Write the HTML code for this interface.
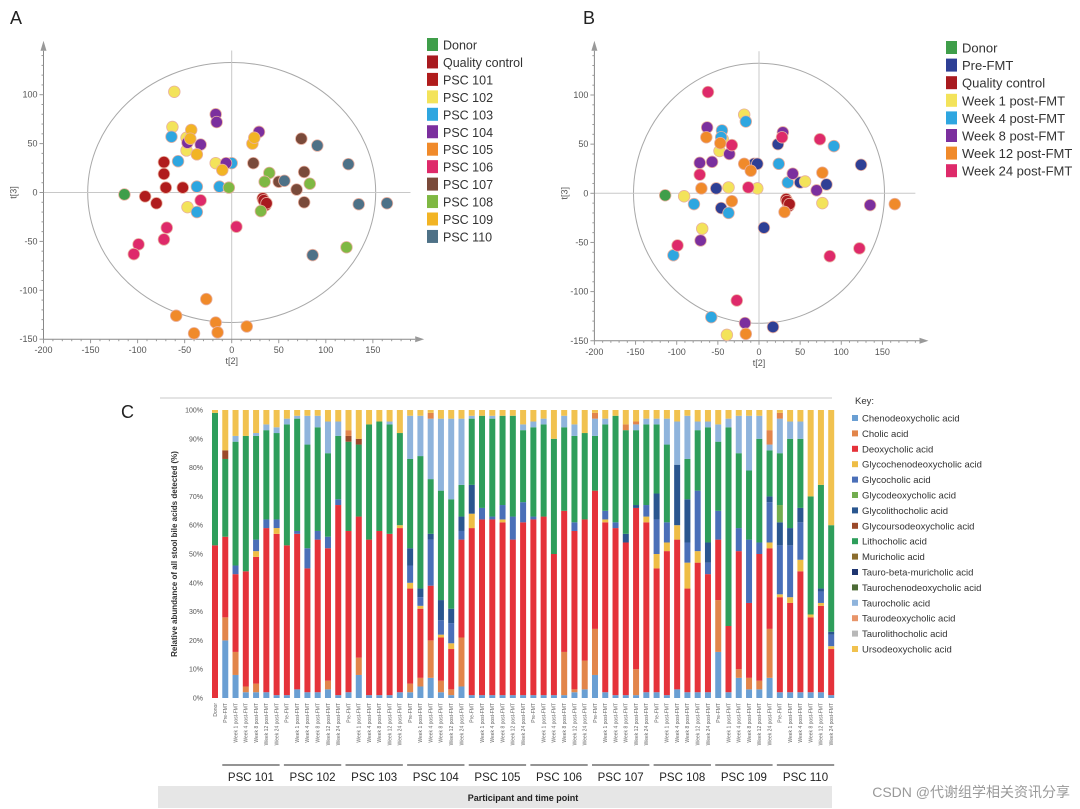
<!DOCTYPE html>
<html><head><meta charset="utf-8"><style>
html,body{margin:0;padding:0;background:#fff;}
svg{display:block;font-family:"Liberation Sans",sans-serif;}
</style></head><body>
<svg id="fig" width="1080" height="809" viewBox="0 0 1080 809">
<text x="10" y="24" font-size="18" fill="#222">A</text>
<text x="583" y="24" font-size="18" fill="#222">B</text>
<text x="121" y="418" font-size="18" fill="#222">C</text>
<g id="pa"></g>
<g id="pb"></g>
<g id="pc"></g>
</svg>
<script>
const NS="http://www.w3.org/2000/svg";
function mk(p,t,a){const e=document.createElementNS(NS,t);for(const k in a)e.setAttribute(k,a[k]);p.appendChild(e);return e;}

/* ---------- Scatter data ---------- */
const groupsA=["Donor","Quality control","PSC 101","PSC 102","PSC 103","PSC 104","PSC 105","PSC 106","PSC 107","PSC 108","PSC 109","PSC 110"];
const colorsA=["#3f9e4a","#a81a1f","#b01c1c","#f3e35a","#2ea6e0","#7b2f9e","#f08a2a","#de2a6a","#7a4a3a","#7fb843","#f2b424","#4e7187"];
const pointsA=[
[[-114,-2]],
[[33,-6],[35,-10],[36,-13],[34,-8],[37,-11]],
[[-72,31],[-72,19],[-70,5],[-52,5],[-92,-4],[-80,-11]],
[[-61,103],[-63,67],[-48,56],[-48,43],[-17,30],[-47,-15]],
[[-64,57],[-57,32],[-37,6],[-13,6],[-37,-20],[0,30]],
[[-17,80],[-16,72],[-33,49],[-47,51],[-6,30],[29,62]],
[[-27,-109],[-59,-126],[-40,-144],[-17,-133],[-15,-143],[16,-137]],
[[-33,-8],[-69,-36],[-72,-48],[-99,-53],[-104,-63],[5,-35]],
[[74,55],[23,30],[50,11],[69,3],[77,21],[77,-10]],
[[40,20],[35,11],[83,9],[31,-19],[122,-56],[-3,5]],
[[-43,64],[-37,39],[-10,23],[22,50],[24,56],[-44,55]],
[[91,48],[124,29],[56,12],[135,-12],[165,-11],[86,-64]]];
const groupsB=["Donor","Pre-FMT","Quality control","Week 1 post-FMT","Week 4 post-FMT","Week 8 post-FMT","Week 12 post-FMT","Week 24 post-FMT"];
const colorsB=["#3f9e4a","#2e3f95","#a81a1f","#f3e35a","#2ea6e0","#7b2f9e","#f08a2a","#de2a6a"];
const pointsB=[
[[-114,-2]],
[[-52,5],[-46,-15],[-6,30],[-2,30],[23,50],[50,11],[82,9],[124,29],[6,-35],[17,-136]],
[[33,-6],[35,-10],[36,-13],[34,-8],[37,-11]],
[[-91,-3],[-69,-36],[-37,6],[-2,5],[-18,80],[-48,43],[-44,55],[56,12],[77,-10],[-39,-144]],
[[-79,-11],[-104,-63],[-45,64],[-46,57],[-16,73],[-37,-20],[24,30],[35,11],[91,48],[-58,-126]],
[[-72,31],[-63,67],[-57,32],[-36,40],[41,20],[29,62],[70,3],[135,-12],[-71,-48],[-17,-132]],
[[-64,57],[-70,5],[-33,-8],[-18,30],[-10,23],[-47,51],[31,-19],[77,21],[165,-11],[-16,-143]],
[[-62,103],[-72,19],[-33,49],[-13,6],[28,57],[74,55],[86,-64],[122,-56],[-27,-109],[-99,-53]]];
const xTicks=[-200,-150,-100,-50,0,50,100,150];
const yTicks=[100,50,0,-50,-100,-150];

function scatter(g,cfg,groups,colors,points,legX,legY,legStep,legFont){
  const sx=v=>cfg.x0+v*cfg.kx, sy=v=>cfg.y0-v*cfg.ky;
  const left=sx(-200), bot=sy(-150);
  mk(g,"ellipse",{cx:sx(0),cy:sy(0),rx:cfg.rx,ry:cfg.ry,fill:"none",stroke:"#a8a8a8","stroke-width":1});
  mk(g,"line",{x1:sx(0),y1:sy(0)-cfg.ry-12,x2:sx(0),y2:bot,stroke:"#c8c8c8"});
  mk(g,"line",{x1:left,y1:sy(0),x2:sx(190),y2:sy(0),stroke:"#c8c8c8"});
  mk(g,"line",{x1:left,y1:bot,x2:sx(195),y2:bot,stroke:"#888"});
  mk(g,"line",{x1:left,y1:bot,x2:left,y2:sy(145),stroke:"#888"});
  mk(g,"path",{d:`M${sx(195)},${bot-3}L${sx(195)+9},${bot}L${sx(195)},${bot+3}Z`,fill:"#999"});
  mk(g,"path",{d:`M${left-3},${sy(145)}L${left},${sy(145)-10}L${left+3},${sy(145)}Z`,fill:"#999"});
  for(let v=-200;v<=190;v+=10){mk(g,"line",{x1:sx(v),y1:bot,x2:sx(v),y2:bot+(v%50===0?4:2),stroke:"#999"});}
  for(let v=-150;v<=140;v+=10){mk(g,"line",{x1:left,y1:sy(v),x2:left-(v%50===0?4:2),y2:sy(v),stroke:"#999"});}
  xTicks.forEach(v=>{const t=mk(g,"text",{x:sx(v),y:bot+14,"font-size":9,fill:"#555","text-anchor":"middle"});t.textContent=v;
    
    });
  yTicks.forEach(v=>{const t=mk(g,"text",{x:left-6,y:sy(v)+3,"font-size":9,fill:"#555","text-anchor":"end"});t.textContent=v;
    
    });
  const xt=mk(g,"text",{x:sx(0),y:bot+25,"font-size":9,fill:"#555","text-anchor":"middle"});xt.textContent="t[2]";
  
  
  const yt=mk(g,"text",{x:0,y:0,"font-size":9,fill:"#555","text-anchor":"middle",transform:`translate(${left-27},${sy(0)}) rotate(-90)`});yt.textContent="t[3]";
  
  
  points.forEach((pts,gi)=>pts.forEach(p=>{
    const c=mk(g,"circle",{cx:sx(p[0]),cy:sy(p[1]),r:5.8,fill:colors[gi],stroke:"#e8b0a0","stroke-width":0.8});
    
    
  }));
  groups.forEach((n,i)=>{
    const y=legY+i*legStep;
    const r=mk(g,"rect",{x:legX,y:y-7,width:11,height:13,fill:colors[i]});
    
    
    const t=mk(g,"text",{x:legX+16,y:y+4.5,"font-size":legFont,fill:"#333"});t.textContent=n;
    
    
  });
}
scatter(document.getElementById("pa"),{x0:231.7,y0:192.5,kx:0.941,ky:0.978,rx:144,ry:130},groupsA,colorsA,pointsA,427,45,17.45,12.5);
scatter(document.getElementById("pb"),{x0:759,y0:193.3,kx:0.823,ky:0.983,rx:125.5,ry:130},groupsB,colorsB,pointsB,946,48,17.6,13);

/* ---------- Bar chart data ---------- */
const participants=["PSC 101","PSC 102","PSC 103","PSC 104","PSC 105","PSC 106","PSC 107","PSC 108","PSC 109","PSC 110"];
const timepoints=["Pre-FMT","Week 1 post-FMT","Week 4 post-FMT","Week 8 post-FMT","Week 12 post-FMT","Week 24 post-FMT"];
const yTickPct=[0,10,20,30,40,50,60,70,80,90,100];
const keyNames=["Chenodeoxycholic acid","Cholic acid","Deoxycholic acid","Glycochenodeoxycholic acid","Glycocholic acid","Glycodeoxycholic acid","Glycolithocholic acid","Glycoursodeoxycholic acid","Lithocholic acid","Muricholic acid","Tauro-beta-muricholic acid","Taurochenodeoxycholic acid","Taurocholic acid","Taurodeoxycholic acid","Taurolithocholic acid","Ursodeoxycholic acid"];
const keyColors=["#6a9fd3","#e2854a","#e5323a","#eebd45","#4a6fb8","#72ad4f","#2a568f","#9b4a2a","#2e9e5b","#8b6d2e","#1f3570","#4c6b36","#8fb4dc","#e8956a","#b8b8b8","#f1c24f"];
const chenodeoxycholic=[0,20,8,2,2,2,1,1,3,2,2,3,1,2,8,1,1,1,2,2,4,7,2,1,4,1,1,1,1,1,1,1,1,1,1,2,3,8,2,1,1,1,2,2,1,3,2,2,2,16,2,7,3,3,7,2,2,2,2,2,1];
const taurodeoxycholic=[0,8,8,2,3,0,0,0,0,0,0,3,0,0,6,0,0,0,0,3,3,13,4,2,17,0,0,0,0,0,0,0,0,0,15,1,10,16,0,0,0,9,0,0,0,0,0,0,0,18,0,3,4,3,17,0,0,0,0,0,0];
const deoxycholic=[53,28,27,40,44,57,56,52,54,43,53,46,66,56,49,54,57,56,57,33,24,19,15,14,34,58,61,61,60,54,60,61,62,49,49,55,49,48,59,58,53,56,59,43,50,52,36,45,41,21,23,41,26,44,28,33,31,42,26,30,16];
const glycochenodeoxycholic=[0,0,0,0,2,0,2,0,0,0,0,0,0,0,0,0,0,0,1,2,1,0,1,2,0,5,0,0,1,0,0,0,0,0,0,0,0,0,1,0,0,0,2,5,3,5,9,4,0,0,0,0,0,0,2,1,2,4,1,1,1];
const glycocholic=[0,0,3,0,4,3,3,0,1,7,3,4,2,0,0,0,0,0,0,6,3,16,5,7,3,0,4,1,5,8,7,1,0,0,0,3,0,0,3,2,0,0,4,12,7,0,7,21,4,10,0,8,22,4,14,17,18,13,0,4,4];
const tauroBetaMuricholic=[0,0,0,0,0,0,0,0,0,0,0,0,0,0,0,0,0,0,0,6,3,2,7,5,5,10,0,0,0,0,0,0,0,0,0,0,0,0,0,0,3,1,0,9,0,21,15,0,7,0,0,0,0,0,2,8,6,5,0,1,1];
const glycodeoxycholic=[0,0,0,0,0,0,0,0,0,0,0,0,0,0,0,0,0,0,0,0,0,0,0,0,0,0,0,0,0,0,0,0,0,0,0,0,0,0,0,0,0,0,0,0,0,0,0,0,0,0,0,0,0,0,0,6,0,0,0,0,0];
const lithocholic=[46,27,43,47,36,31,30,42,39,36,36,29,22,31,25,40,38,38,32,31,46,19,38,38,11,23,32,34,31,35,25,31,32,40,29,30,30,19,30,37,36,26,28,24,27,0,14,21,40,24,69,26,24,36,16,18,31,24,41,36,37];
const glycoursodeoxycholic=[0,3,0,0,0,0,0,0,0,0,0,0,0,2,2,0,0,0,0,0,0,0,0,0,0,0,0,0,0,0,0,0,0,0,0,0,0,0,0,0,0,0,0,0,0,0,0,0,0,0,0,0,0,0,0,0,0,0,0,0,0];
const taurocholic=[0,0,2,0,1,2,2,2,1,10,4,11,5,0,0,0,0,1,0,15,14,21,25,28,23,1,0,1,0,0,2,2,2,0,4,4,0,6,2,0,0,2,2,2,9,15,15,3,2,6,3,13,19,8,2,12,6,6,0,0,0];
const cholic=[0,0,0,0,0,0,0,0,0,0,0,0,0,2,0,0,0,0,0,0,0,2,0,0,0,0,0,0,0,0,0,0,0,0,0,0,0,2,0,0,2,1,0,0,0,0,0,0,0,0,0,0,0,0,5,2,0,0,0,0,0];
const ursodeoxycholic=[1,14,9,9,8,5,6,3,2,2,2,4,4,7,10,5,4,4,8,2,2,1,3,3,3,2,2,2,2,2,5,4,3,10,2,5,8,1,3,2,5,4,3,3,3,4,2,4,4,5,3,2,2,2,7,1,4,4,30,26,40];
const stackSeries=[chenodeoxycholic,taurodeoxycholic,deoxycholic,glycochenodeoxycholic,glycocholic,tauroBetaMuricholic,glycodeoxycholic,lithocholic,glycoursodeoxycholic,taurocholic,cholic,ursodeoxycholic];
const stackColors=["#6a9fd3","#e2854a","#e5323a","#eebd45","#4a6fb8","#2a568f","#72ad4f","#2e9e5b","#9b4a2a","#8fb4dc","#e2854a","#f1c24f"];

const pc=document.getElementById("pc");
const X0=215, DX=10.27, BW=6, Y0=698, YH=288;
const bx=i=>X0+i*DX, by=v=>Y0-v/100*YH;
mk(pc,"line",{x1:160,y1:398,x2:832,y2:398,stroke:"#e4e4e4","stroke-width":2});
yTickPct.forEach(v=>{const t=mk(pc,"text",{x:203,y:by(v)+2.5,"font-size":7,fill:"#555","text-anchor":"end"});t.textContent=v+"%";
  
  });
const ya=mk(pc,"text",{x:0,y:0,"font-size":8,"font-weight":"bold",fill:"#333","text-anchor":"middle",transform:`translate(177,554) rotate(-90)`});
ya.textContent="Relative abundance of all stool bile acids detected (%)";


const labels=["Donor"];participants.forEach(()=>timepoints.forEach(t=>labels.push(t)));
labels.forEach((lab,i)=>{
  let cum=0;
  stackSeries.forEach((s,k)=>{
    const v=Math.min(s[i],100-cum); if(v<=0)return;
    const r=mk(pc,"rect",{x:bx(i)-BW/2,y:by(cum+v),width:BW,height:v/100*YH,fill:stackColors[k]});
    
    
    cum+=v;
  });
  const t=mk(pc,"text",{x:0,y:0,"font-size":5,fill:"#666","text-anchor":"end",transform:`translate(${bx(i)+1.8},703) rotate(-90)`});
  t.textContent=lab;
  
  
});
participants.forEach((p,j)=>{
  const a=bx(1+j*6)-3,b=bx(6+j*6)+3;
  const l=mk(pc,"line",{x1:a,y1:765,x2:b,y2:765,stroke:"#555","stroke-width":1.3});
  
  
  const t=mk(pc,"text",{x:(a+b)/2,y:781,"font-size":11.5,fill:"#222","text-anchor":"middle"});t.textContent=p;
  
  
});
const band=mk(pc,"rect",{x:158,y:786,width:674,height:22,fill:"#e6e6e6"});


const xa=mk(pc,"text",{x:523,y:801,"font-size":9,"font-weight":"bold",fill:"#222","text-anchor":"middle"});xa.textContent="Participant and time point";


const kt=mk(pc,"text",{x:855,y:404,"font-size":9.5,fill:"#333"});kt.textContent="Key:";


keyNames.forEach((n,i)=>{
  const y=418+i*15.4;
  const r=mk(pc,"rect",{x:852,y:y-3,width:6,height:6,fill:keyColors[i]});
  
  
  const t=mk(pc,"text",{x:862,y:y+3.5,"font-size":9.5,fill:"#333"});t.textContent=n;
  
  
});
const wm=mk(pc,"text",{x:1070,y:797,"font-size":14,fill:"#999","text-anchor":"end","font-family":"Liberation Sans, Noto Sans CJK SC, sans-serif"});
wm.textContent="CSDN @代谢组学相关资讯分享";


</script>
</body></html>
